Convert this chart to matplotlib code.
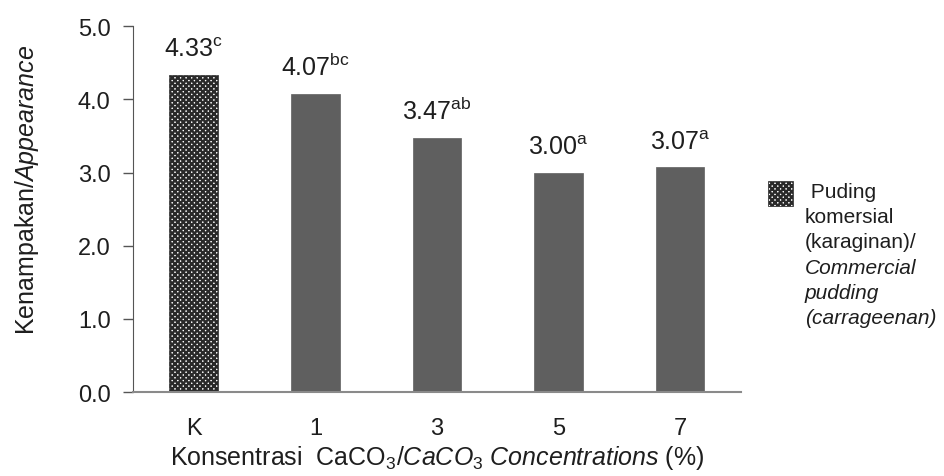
import matplotlib
matplotlib.use("Agg")
import matplotlib.pyplot as plt
from matplotlib.patches import Rectangle

plt.rcParams['font.family'] = ['Liberation Sans', 'DejaVu Sans']
plt.rcParams['mathtext.fontset'] = 'custom'
plt.rcParams['mathtext.rm'] = 'Liberation Sans'
plt.rcParams['mathtext.it'] = 'Liberation Sans:italic'
plt.rcParams['mathtext.bf'] = 'Liberation Sans:bold'
plt.rcParams['hatch.linewidth'] = 1.7

# data
categories = ['K', '1', '3', '5', '7']
scores = [4.33, 4.07, 3.47, 3.00, 3.07]
letters = ['c', 'bc', 'ab', 'a', 'a']
yticks = [0.0, 1.0, 2.0, 3.0, 4.0, 5.0]

legend_lines = [' Puding', 'komersial', '(karaginan)/',
                'Commercial', 'pudding', '(carrageenan)']
legend_italic = [False, False, False, True, True, True]

bar_color = '#5f5f5f'
text_color = '#1e1e1e'

fig = plt.figure(figsize=(9.45, 4.77), dpi=100)
ax = fig.add_axes([0.1407, 0.176, 0.6434, 0.767])

x = range(len(categories))
bars = ax.bar(x, scores, width=0.4, color=bar_color, edgecolor=bar_color, linewidth=0.5)
# control bar is checkered
bars[0].set_facecolor('#ffffff')
bars[0].set_edgecolor('#2a2a2a')
bars[0].set_hatch('xxxxxx')

for i, (v, lt) in enumerate(zip(scores, letters)):
    ax.annotate(f'{v:.2f}$^{{\\mathrm{{{lt}}}}}$', xy=(i, v), xytext=(0, 10),
                textcoords='offset points', ha='center', va='bottom',
                fontsize=18, color=text_color)

ax.set_xlim(-0.5, len(categories) - 0.5)
ax.set_ylim(0, 5)
ax.set_yticks(yticks)
ax.set_yticklabels([f'{t:.1f}' for t in yticks])
ax.set_xticks(list(x))
ax.set_xticklabels(categories)

ax.tick_params(axis='x', length=0, pad=18, labelsize=17, labelcolor=text_color)
ax.tick_params(axis='y', length=7, width=1, pad=9, labelsize=17,
               labelcolor=text_color, color='#555555')

for side in ['top', 'right']:
    ax.spines[side].set_visible(False)
ax.spines['left'].set_color('#555555')
ax.spines['bottom'].set_color('#8a8a8a')
ax.spines['bottom'].set_linewidth(1.5)

ax.set_ylabel('Kenampakan/$\\mathit{Appearance}$', fontsize=18, color=text_color)
ax.yaxis.set_label_coords(-0.152, 0.555)
ax.set_xlabel('Konsentrasi  CaCO$_3$/$\\mathit{CaCO_3\\ Concentrations}$ (%)',
              fontsize=18, color=text_color, labelpad=3)

# legend swatch and text
sw = Rectangle((768 / 945, 1 - 207 / 477), 25 / 945, 25 / 477, transform=fig.transFigure,
               facecolor='#ffffff', edgecolor='#2a2a2a', hatch='xxxxxx', linewidth=0.5)
fig.patches.append(sw)
for k, (line, it) in enumerate(zip(legend_lines, legend_italic)):
    fig.text(805 / 945, 1 - (198 + 25.2 * k) / 477, line, fontsize=15,
             style='italic' if it else 'normal',
             color=text_color, ha='left', va='baseline')

fig.savefig('out.png', dpi=100)
